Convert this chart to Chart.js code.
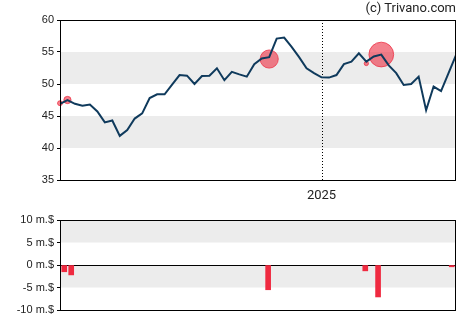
<!DOCTYPE html>
<html>
<head>
<meta charset="utf-8">
<script src="https://cdn.jsdelivr.net/npm/chart.js@4"></script>
<style>
  body { margin: 0; background: #fff; }
  #wrap { position: relative; width: 470px; height: 325px; }
  #price { position: absolute; left: 0; top: 0; }
  #trades { position: absolute; left: 0; top: 200px; }
  #copy { position: absolute; right: 14px; top: 0; font: 13px Roboto, sans-serif; line-height: 16px; color: #222; }
</style>
</head>
<body>
<div id="wrap">
  <canvas id="trades" width="470" height="125"></canvas>
  <canvas id="price" width="470" height="205"></canvas>
  <div id="copy">(c) Trivano.com</div>
</div>
<script>
// weekly closing prices, one per week (day 0 .. day 371)
var prices = [46.9, 47.5, 46.9, 46.6, 46.8, 45.7, 44.0, 44.3, 41.9, 42.8,
              44.6, 45.4, 47.8, 48.4, 48.4, 49.9, 51.4, 51.3, 50.0, 51.25,
              51.3, 52.45, 50.6, 51.9, 51.5, 51.15, 53.1, 54.0, 54.2, 57.1,
              57.25, 55.8, 54.2, 52.45, 51.7, 51.05, 51.0, 51.4, 53.1, 53.5,
              54.8, 53.5, 54.3, 54.6, 52.9, 51.7, 49.85, 50.0, 51.15, 45.9,
              49.6, 48.9, 51.7, 54.5];
var weekDays = prices.map(function(p, i) { return i * 7; });
var lastDay = 371;
var yearStartDay = 245;      // 2025-01-01
var yearLabel = "2025";

// insider sales (million $)
var tradeDays = [4, 10.5, 195, 286, 298, 367];
var tradeAmounts = [-1.5, -2.2, -5.5, -1.3, -7.1, -0.4];

// markers on the price line
var bubbleDays = [0, 7, 196, 287, 301];
var bubblePrices = [47.0, 47.5, 53.9, 53.2, 54.6];
var bubbleAmounts = [-1.5, -2.2, -5.5, -1.3, -7.5];

var priceTicks = [35, 40, 45, 50, 55, 60];
var priceBands = [[50, 55], [40, 45]];
var tradeTicks = [-10, -5, 0, 5, 10];
var tradeBands = [[5, 10], [-5, 0]];

var tickFont = { family: "'Liberation Sans', Arial, sans-serif", size: 11 };

var framePlugin = {
  id: 'frame',
  beforeDraw: function(chart, args, opts) {
    var ctx = chart.ctx, a = chart.chartArea, y = chart.scales.y;
    ctx.save();
    ctx.fillStyle = '#ececec';
    (opts.bands || []).forEach(function(b) {
      var top = y.getPixelForValue(b[1]), bot = y.getPixelForValue(b[0]);
      ctx.fillRect(a.left, top, a.right - a.left, bot - top);
    });
    ctx.restore();
  },
  beforeDatasetsDraw: function(chart, args, opts) {
    if (opts.marker === undefined) return;
    var ctx = chart.ctx, a = chart.chartArea;
    var x = Math.round(chart.scales.x.getPixelForValue(opts.marker)) + 0.5;
    ctx.save();
    ctx.strokeStyle = '#000';
    ctx.lineWidth = 1;
    ctx.setLineDash([1, 2]);
    ctx.beginPath();
    ctx.moveTo(x, a.top);
    ctx.lineTo(x, a.bottom);
    ctx.stroke();
    ctx.restore();
  },
  afterDraw: function(chart) {
    var ctx = chart.ctx, a = chart.chartArea;
    ctx.save();
    ctx.strokeStyle = '#000';
    ctx.lineWidth = 1;
    ctx.strokeRect(a.left + 0.5, a.top + 0.5, a.right - a.left - 1, a.bottom - a.top);
    ctx.restore();
  }
};

new Chart(document.getElementById('price').getContext('2d'), {
  type: 'line',
  data: {
    datasets: [
      {
        type: 'line',
        data: weekDays.map(function(d, i) { return { x: d, y: prices[i] }; }),
        borderColor: '#0f3a5c',
        borderWidth: 2,
        pointRadius: 0,
        tension: 0,
        fill: false,
        order: 1
      },
      {
        type: 'bubble',
        data: bubbleDays.map(function(d, i) {
          return { x: d, y: bubblePrices[i], r: Math.abs(bubbleAmounts[i]) * 1.65 };
        }),
        backgroundColor: 'rgba(236,45,65,0.6)',
        borderColor: 'rgba(236,45,65,0.75)',
        borderWidth: 1,
        clip: false,
        order: 2
      }
    ]
  },
  options: {
    responsive: false,
    animation: false,
    events: [],
    layout: { padding: { left: 0, right: 14, top: 20, bottom: 0 } },
    plugins: {
      legend: { display: false },
      tooltip: { enabled: false },
      frame: { bands: priceBands, marker: yearStartDay }
    },
    scales: {
      x: {
        type: 'linear', min: 0, max: lastDay,
        afterBuildTicks: function(axis) { axis.ticks = [{ value: yearStartDay }]; },
        afterFit: function(axis) { axis.height = 25; },
        ticks: {
          callback: function() { return yearLabel; },
          font: { family: 'Roboto, sans-serif', size: 13 },
          color: '#222', padding: 0, maxRotation: 0, autoSkip: false
        },
        grid: { display: false },
        border: { display: false }
      },
      y: {
        min: 35, max: 60,
        afterBuildTicks: function(axis) { axis.ticks = priceTicks.map(function(v) { return { value: v }; }); },
        afterFit: function(axis) { axis.width = 60; },
        ticks: { font: tickFont, color: '#222', padding: 3 },
        grid: { color: 'rgba(0,0,0,0)', tickColor: '#000', tickLength: 3 },
        border: { display: false }
      }
    }
  },
  plugins: [framePlugin]
});

new Chart(document.getElementById('trades').getContext('2d'), {
  type: 'bar',
  data: {
    datasets: [{
      data: tradeDays.map(function(d, i) { return { x: d, y: tradeAmounts[i] }; }),
      backgroundColor: '#ef2a40',
      barThickness: 5
    }]
  },
  options: {
    responsive: false,
    animation: false,
    events: [],
    layout: { padding: { left: 0, right: 14, top: 20, bottom: 15 } },
    plugins: {
      legend: { display: false },
      tooltip: { enabled: false },
      frame: { bands: tradeBands }
    },
    scales: {
      x: { type: 'linear', min: 0, max: lastDay, offset: false, display: false },
      y: {
        min: -10, max: 10,
        afterBuildTicks: function(axis) { axis.ticks = tradeTicks.map(function(v) { return { value: v }; }); },
        afterFit: function(axis) { axis.width = 60; },
        ticks: {
          font: tickFont, color: '#222', padding: 3,
          callback: function(v) { return v + ' m.$'; }
        },
        grid: {
          color: function(c) { return c.tick && c.tick.value === 0 ? '#000' : 'rgba(0,0,0,0)'; },
          tickColor: '#000', tickLength: 3
        },
        border: { display: false }
      }
    }
  },
  plugins: [framePlugin]
});
</script>
</body>
</html>
